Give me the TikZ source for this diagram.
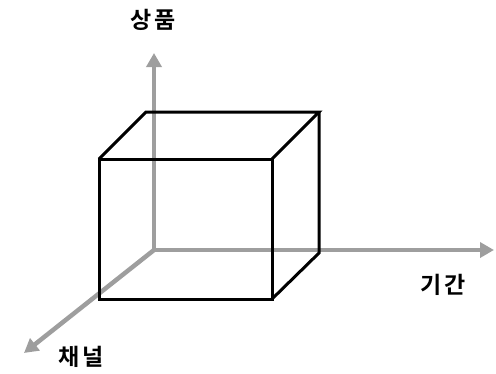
\documentclass[tikz,border=0pt]{standalone}
\usepackage{fontspec}
\newfontfamily\kr{Noto Sans CJK KR}[BoldFont={* Bold}]
\usetikzlibrary{arrows.meta}
\begin{document}
\begin{tikzpicture}[x=1pt,y=-1pt,
  axis/.style={draw={rgb,255:red,158;green,158;blue,158},line width=4.5pt,
    -{Triangle[length=14pt,width=15pt]}},
  edge/.style={draw=black,line width=3pt,line join=miter},
  lbl/.style={font=\kr\bfseries\fontsize{23pt}{26pt}\selectfont,inner sep=0pt}]
\useasboundingbox (0,0) rectangle (496,373);
% axes
\coordinate (o) at (154,250);
\coordinate (ytip) at (154,53);
\coordinate (xtip) at (494,250);
\coordinate (ztip) at (24,353);
\draw[axis] (o) -- (ytip);
\draw[axis] (o) -- (xtip);
\draw[axis] (o) -- (ztip);
% cube
\coordinate (ftl) at (99,159);
\coordinate (ftr) at (272,159);
\coordinate (fbr) at (272,299);
\coordinate (fbl) at (99,299);
\coordinate (btl) at (146,112);
\coordinate (btr) at (319,112);
\coordinate (bbr) at (319,253);
\draw[edge] (ftl) -- (ftr) -- (fbr) -- (fbl) -- cycle;
\draw[edge] (ftl) -- (btl) -- (btr) -- (ftr);
\draw[edge] (btr) -- (bbr) -- (fbr);
% labels
\node[lbl] (sp) at (153,20) {상\hspace{3pt}품};
\node[lbl] (gg) at (443,285) {기\hspace{3pt}간};
\node[lbl] (cn) at (81,357) {채\hspace{3pt}널};
\end{tikzpicture}
\end{document}
